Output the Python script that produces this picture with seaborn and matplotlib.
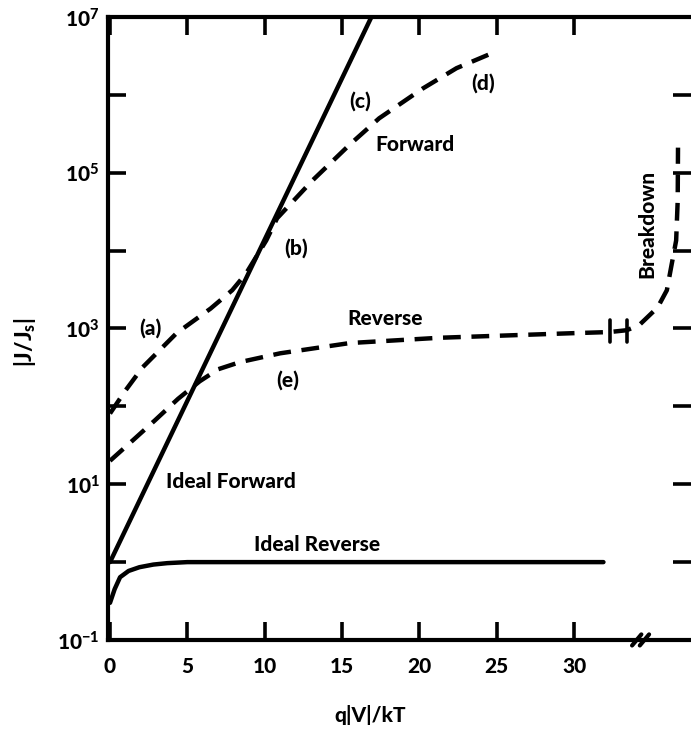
import matplotlib
matplotlib.use('Agg')
import matplotlib.pyplot as plt
import seaborn as sns

# values: x = q|V|/kT, y = |J/Js|
ideal_fwd_x = [0, 16.9]
ideal_fwd_y = [1.0, 1e7]

ideal_rev_x = [0, 0.3, 0.65, 1.2, 1.9, 2.8, 3.7, 5, 10, 20, 31.9]
ideal_rev_y = [0.3, 0.45, 0.64, 0.77, 0.86, 0.93, 0.97, 1.0, 1.0, 1.0, 1.0]

fwd_x = [0, 1.0, 2.1, 4.3, 6.5, 7.9, 8.8, 10.1, 10.8, 13.1, 15.5, 17.4, 20.2, 22.4, 24.8]
fwd_y = [81, 160, 316, 870, 1800, 3100, 5100, 13500, 26000, 80000, 2.3e5, 5e5, 1.2e6, 2.2e6, 3.5e6]

rev_x = [0, 1.5, 2.9, 4.4, 5.8, 7.0, 8.4, 11, 15.5, 21.3, 29.9, 32.3, 33.4,
         34.2, 35.4, 36.0, 36.3, 36.6, 36.7, 36.72]
rev_y = [20, 37, 66, 125, 210, 300, 370, 480, 650, 760, 870, 900, 950,
         1100, 1860, 3100, 6500, 13500, 4.4e4, 2.1e5]

y_ticks = [1e-1, 1e0, 1e1, 1e2, 1e3, 1e4, 1e5, 1e6, 1e7]
y_labels = [r'$10^{-1}$', '', r'$10^{1}$', '', r'$10^{3}$', '', r'$10^{5}$', '', r'$10^{7}$']
x_ticks = [0, 5, 10, 15, 20, 25, 30]

# curve annotations: (text, x, y, rotation)
notes = [('(a)', 2.6, 1000, 0), ('(b)', 12.0, 1.07e4, 0), ('(c)', 16.2, 8.3e5, 0),
         ('(d)', 24.1, 1.4e6, 0), ('(e)', 11.5, 215, 0),
         ('Forward', 19.7, 2.3e5, 0), ('Reverse', 17.8, 1350, 0),
         ('Ideal Forward', 7.8, 11, 0), ('Ideal Reverse', 13.4, 1.7, 0),
         ('Breakdown', 34.7, 2.2e4, 90)]

sns.set_style('ticks')
plt.rcParams['font.family'] = ['Lato', 'DejaVu Sans']
plt.rcParams['font.weight'] = 'black'
plt.rcParams['text.color'] = 'black'
plt.rcParams['axes.labelcolor'] = 'black'
plt.rcParams['xtick.color'] = 'black'
plt.rcParams['ytick.color'] = 'black'
plt.rcParams['axes.edgecolor'] = 'black'
plt.rcParams['mathtext.fontset'] = 'custom'
plt.rcParams['mathtext.rm'] = 'Lato:black'
plt.rcParams['mathtext.bf'] = 'Lato:black'
plt.rcParams['mathtext.it'] = 'Lato:black'
plt.rcParams['mathtext.default'] = 'bf'

fig = plt.figure(figsize=(6.91, 7.48), dpi=100)
ax = fig.add_axes([0.1563, 0.1444, 0.8437, 0.8329])

dash = (0, (4, 2.4))
sns.lineplot(x=ideal_fwd_x, y=ideal_fwd_y, ax=ax, color='black', lw=3.2, sort=False, estimator=None)
sns.lineplot(x=ideal_rev_x, y=ideal_rev_y, ax=ax, color='black', lw=3.2, sort=False, estimator=None)
sns.lineplot(x=fwd_x, y=fwd_y, ax=ax, color='black', lw=3.2, linestyle=dash, sort=False, estimator=None)
sns.lineplot(x=rev_x, y=rev_y, ax=ax, color='black', lw=3.2, linestyle=dash, sort=False, estimator=None)

# break marks on the reverse curve
for bx in [32.3, 33.4]:
    ax.plot([bx, bx], [680, 1300], color='black', lw=2.6)

ax.set_yscale('log')
ax.set_xlim(-0.13, 37.56)
ax.set_ylim(1e-1, 1e7)
ax.set_yticks(y_ticks)
ax.set_yticklabels(y_labels)
ax.minorticks_off()
ax.set_xticks(x_ticks)
ax.set_xticklabels([str(t) for t in x_ticks])

ax.tick_params(axis='both', which='major', direction='in', length=13, width=2.6,
               labelsize=15, top=True, right=True)
ax.tick_params(axis='x', pad=12)
ax.tick_params(axis='y', pad=6)
for s in ['left', 'bottom', 'top']:
    ax.spines[s].set_linewidth(3)
ax.spines['right'].set_visible(False)

# axis break symbol on the bottom axis
for dx in [-0.25, 0.25]:
    ax.plot([34.0 + dx, 34.6 + dx], [0.085, 0.118], color='black', lw=3, clip_on=False)

for txt, tx, ty, rot in notes:
    ax.text(tx, ty, txt, ha='center', va='center', fontsize=15, rotation=rot,
            fontweight='black')

ax.set_xlabel('q|V|/kT', fontsize=15, fontweight='black')
ax.xaxis.set_label_coords(0.45, -0.104)
ax.set_ylabel(r'$|J/J_s|$', fontsize=16)
ax.yaxis.set_label_coords(-0.12, 0.478)

plt.savefig('out.png', dpi=100)
